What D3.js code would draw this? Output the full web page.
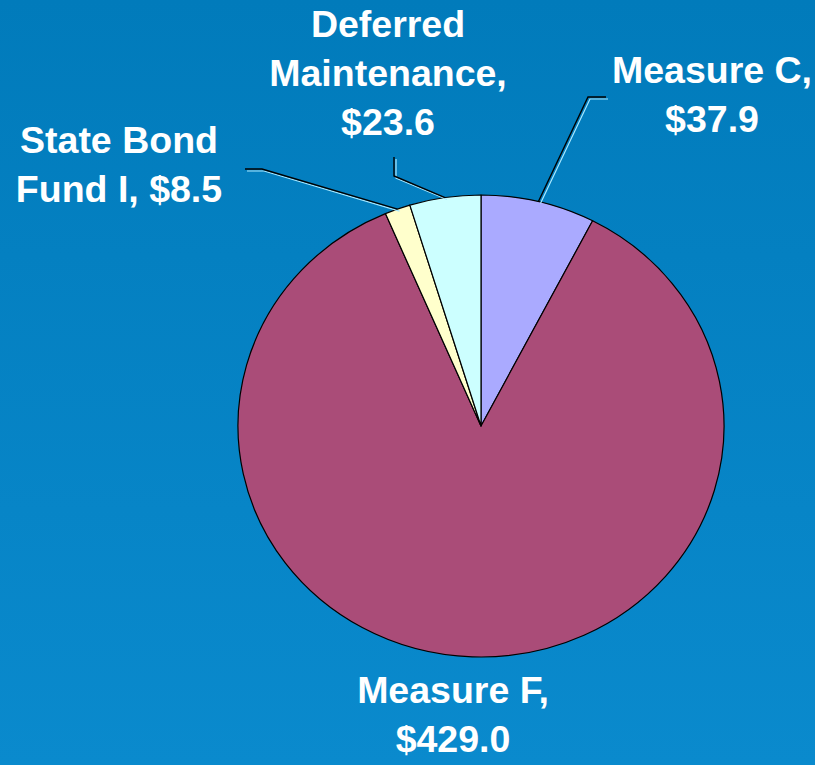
<!DOCTYPE html>
<html>
<head>
<meta charset="utf-8">
<script src="https://cdn.jsdelivr.net/npm/d3@7"></script>
<style>
  html, body { margin: 0; padding: 0; }
  body { width: 815px; height: 765px; overflow: hidden; }
  text { font-family: "Liberation Sans", Arial, sans-serif; font-weight: bold; fill: #ffffff; }
</style>
</head>
<body>
<div id="chart"></div>
<script>
// Slice data, clockwise from 12 o'clock
var categories = ["Measure C", "Measure F", "State Bond Fund I", "Deferred Maintenance"];
var values = [37.9, 429.0, 8.5, 23.6];
var sliceColors = ["#aaaaff", "#aa4c78", "#ffffcc", "#ccffff"];
var labelLines = [
    ["Measure C,", "$37.9"],
    ["Measure F,", "$429.0"],
    ["State Bond", "Fund I, $8.5"],
    ["Deferred", "Maintenance,", "$23.6"]
];

function init() {
    var width = 815;
    var height = 765;

    var cx = 481, cy = 426;
    var ry = 231, rx = 243;

    var svg = d3.select("#chart")
        .append("svg")
        .attr("width", width)
        .attr("height", height);

    // background
    var grad = svg.append("defs").append("linearGradient")
        .attr("id", "bg").attr("x1", 0).attr("y1", 0).attr("x2", 0).attr("y2", 1);
    grad.append("stop").attr("offset", "0%").attr("stop-color", "#017bbb");
    grad.append("stop").attr("offset", "100%").attr("stop-color", "#0a8acd");
    svg.append("rect").attr("width", width).attr("height", height).attr("fill", "url(#bg)");

    var pie = d3.pie().sort(null).value(function (d) { return d; });
    var arcs = pie(values);

    var arc = d3.arc().innerRadius(0).outerRadius(ry);

    // pie is slightly wider than tall
    var g = svg.append("g")
        .attr("transform", "translate(" + cx + "," + cy + ") scale(" + (rx / ry) + ",1)");

    g.selectAll("path")
        .data(arcs)
        .enter()
        .append("path")
        .attr("d", arc)
        .attr("fill", function (d, i) { return sliceColors[i]; })
        .attr("stroke", "#000")
        .attr("stroke-width", 1.2)
        .attr("vector-effect", "non-scaling-stroke")
        .attr("stroke-linejoin", "round");

    // point on the ellipse edge at slice middle
    function edge(d) {
        var a = (d.startAngle + d.endAngle) / 2;
        return [cx + rx * Math.sin(a), cy - ry * Math.cos(a)];
    }

    // leader bends and label anchors (layout only)
    var layout = [
        { bend: [[588, 97], [606, 97]], x: 712, y: 83 },
        { bend: null, x: 453, y: 703 },
        { bend: [[262, 169], [245, 169]], x: 119, y: 153 },
        { bend: [[394, 176], [394, 157]], x: 388, y: 37 }
    ];

    var line = d3.line();

    arcs.forEach(function (d, i) {
        var L = layout[i];
        if (L.bend) {
            var pts = [edge(d)].concat(L.bend);
            // light highlight line, offset slightly
            svg.append("path")
                .attr("d", line(pts.map(function (p) { return [p[0] + 2, p[1] + 2]; })))
                .attr("fill", "none")
                .attr("stroke", "#a8e8ff")
                .attr("stroke-width", 1.2);
            svg.append("path")
                .attr("d", line(pts))
                .attr("fill", "none")
                .attr("stroke", "#000")
                .attr("stroke-width", 1.4);
        }
        var t = svg.append("text")
            .attr("text-anchor", "middle")
            .attr("x", L.x)
            .attr("y", L.y)
            .style("font-size", "37.5px");
        labelLines[i].forEach(function (s, k) {
            t.append("tspan")
                .attr("x", L.x)
                .attr("dy", k === 0 ? 0 : 49)
                .text(s);
        });
    });
}

window.onload = init;
</script>
</body>
</html>
